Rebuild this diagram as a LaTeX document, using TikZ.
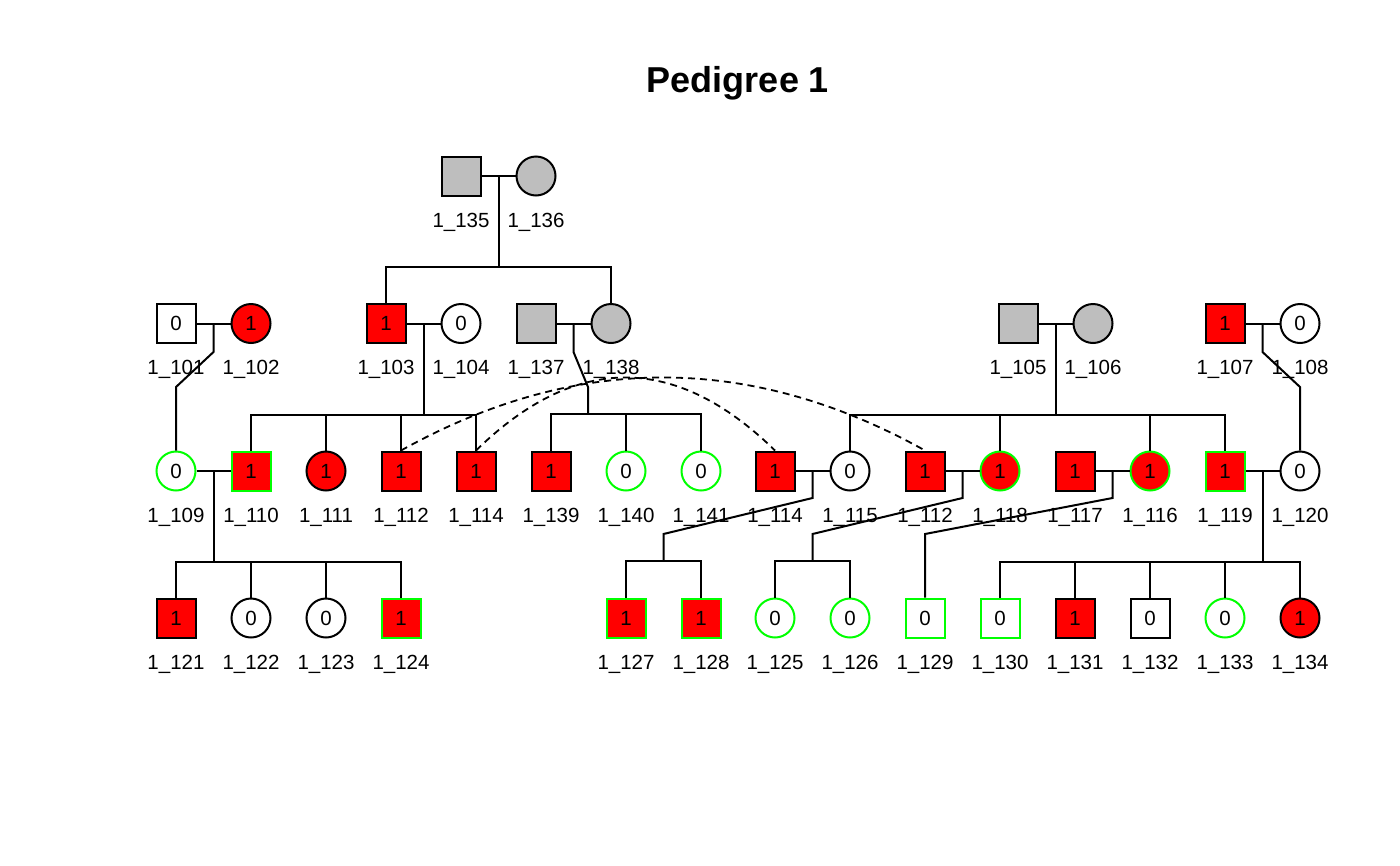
\documentclass[tikz,border=0pt]{standalone}
\usepackage{fontspec}
\setmainfont{Liberation Sans}
\usetikzlibrary{calc}
\definecolor{affred}{RGB}{255,0,0}
\definecolor{unkgray}{RGB}{190,190,190}
\definecolor{brdgreen}{RGB}{0,255,0}
\begin{document}
\begin{tikzpicture}[x=1pt,y=-1pt,line width=2pt,
  sym/.style={draw=black,line width=2pt,inner sep=0pt,minimum size=39pt,
    font=\fontsize{20.5}{24}\selectfont},
  sq/.style={sym,rectangle},
  ci/.style={sym,circle},
  aff/.style={fill=affred},
  unk/.style={fill=unkgray},
  nor/.style={fill=white},
  gb/.style={draw=brdgreen},
  lab/.style={anchor=base,inner sep=0pt,font=\fontsize{20.5}{24}\selectfont},
  con/.style={draw=black,line width=2pt},
  loopline/.style={draw=black,line width=1.8pt,dash pattern=on 7pt off 5pt}]
\useasboundingbox (0,0) rectangle (1400,865);
\node[font=\bfseries\fontsize{36}{42}\selectfont,anchor=base,inner sep=0pt] (title) at (738,92) {Pedigree 1};
% ---------- generation 1 ----------
\node[sq,unk] (p135) at (461,176) {};
\node[ci,unk] (p136) at (536,176) {};
% ---------- generation 2 ----------
\node[sq,nor] (p101) at (176,323.5) {0};
\node[ci,aff] (p102) at (251,323.5) {1};
\node[sq,aff] (p103) at (386,323.5) {1};
\node[ci,nor] (p104) at (461,323.5) {0};
\node[sq,unk] (p137) at (536,323.5) {};
\node[ci,unk] (p138) at (611,323.5) {};
\node[sq,unk] (p105) at (1018,323.5) {};
\node[ci,unk] (p106) at (1093,323.5) {};
\node[sq,aff] (p107) at (1225,323.5) {1};
\node[ci,nor] (p108) at (1300,323.5) {0};
% ---------- generation 3 ----------
\node[ci,nor,gb] (p109) at (176,471) {0};
\node[sq,aff,gb] (p110) at (251,471) {1};
\node[ci,aff] (p111) at (326,471) {1};
\node[sq,aff] (p112a) at (401,471) {1};
\node[sq,aff] (p114a) at (476,471) {1};
\node[sq,aff] (p139) at (551,471) {1};
\node[ci,nor,gb] (p140) at (626,471) {0};
\node[ci,nor,gb] (p141) at (701,471) {0};
\node[sq,aff] (p114b) at (775,471) {1};
\node[ci,nor] (p115) at (850,471) {0};
\node[sq,aff] (p112b) at (925,471) {1};
\node[ci,aff,gb] (p118) at (1000,471) {1};
\node[sq,aff] (p117) at (1075,471) {1};
\node[ci,aff,gb] (p116) at (1150,471) {1};
\node[sq,aff,gb] (p119) at (1225,471) {1};
\node[ci,nor] (p120) at (1300,471) {0};
% ---------- generation 4 ----------
\node[sq,aff] (p121) at (176,618) {1};
\node[ci,nor] (p122) at (251,618) {0};
\node[ci,nor] (p123) at (326,618) {0};
\node[sq,aff,gb] (p124) at (401,618) {1};
\node[sq,aff,gb] (p127) at (626,618) {1};
\node[sq,aff,gb] (p128) at (701,618) {1};
\node[ci,nor,gb] (p125) at (775,618) {0};
\node[ci,nor,gb] (p126) at (850,618) {0};
\node[sq,nor,gb] (p129) at (925,618) {0};
\node[sq,nor,gb] (p130) at (1000,618) {0};
\node[sq,aff] (p131) at (1075,618) {1};
\node[sq,nor] (p132) at (1150,618) {0};
\node[ci,nor,gb] (p133) at (1225,618) {0};
\node[ci,aff] (p134) at (1300,618) {1};
% ---------- labels ----------
\foreach \n/\t in {p135/1\_135,p136/1\_136,p101/1\_101,p102/1\_102,p103/1\_103,p104/1\_104,
  p137/1\_137,p138/1\_138,p105/1\_105,p106/1\_106,p107/1\_107,p108/1\_108,
  p109/1\_109,p110/1\_110,p111/1\_111,p112a/1\_112,p114a/1\_114,p139/1\_139,p140/1\_140,
  p141/1\_141,p114b/1\_114,p115/1\_115,p112b/1\_112,p118/1\_118,p117/1\_117,p116/1\_116,
  p119/1\_119,p120/1\_120,p121/1\_121,p122/1\_122,p123/1\_123,p124/1\_124,p127/1\_127,
  p128/1\_128,p125/1\_125,p126/1\_126,p129/1\_129,p130/1\_130,p131/1\_131,p132/1\_132,
  p133/1\_133,p134/1\_134}
  {\node[lab] (l\n) at ($(\n.center)+(0,51)$) {\t};}
% ---------- marriages ----------
\foreach \a/\b/\m in {p135/p136/m135,p101/p102/m101,p103/p104/m103,p137/p138/m137,
  p105/p106/m105,p107/p108/m107,p109/p110/m109,p114b/p115/m114,p112b/p118/m112,
  p117/p116/m117,p119/p120/m119}
  {\draw[con] (\a.east) -- (\b.west);
   \coordinate (\m) at ($(\a.east)!0.5!(\b.west)$);}
% ---------- gen 1 -> 2 ----------
\coordinate (s135) at ($(m135)+(0,91)$);
\draw[con] (m135) -- (s135);
\draw[con] (p103.north) |- (s135) -| (p138.north);
% ---------- gen 2 -> 3 ----------
\draw[con] (m101) -- ++(0,28.5) -- ($(p109.north)+(0,-63.5)$) -- (p109.north);
\coordinate (s103) at ($(m103)+(0,91.5)$);
\draw[con] (m103) -- (s103);
\draw[con] (p110.north) |- (s103) -| (p114a.north);
\draw[con] (p111.north) -- ++(0,-36.5);
\draw[con] (p112a.north) -- ++(0,-36.5);
\coordinate (s137) at ($(p140.north)+(-38,-36.5)$);
\draw[con] (m137) -- ++(0,28.5) -- ($(s137)+(0,-27)$) -- (s137);
\draw[con] (p139.north) |- (s137) -| (p141.north);
\draw[con] (p140.north) -- ++(0,-36.5);
\coordinate (s105) at ($(m105)+(0,91.5)$);
\draw[con] (m105) -- (s105);
\draw[con] (p115.north) |- (s105) -| (p119.north);
\draw[con] (p118.north) -- ++(0,-36.5);
\draw[con] (p116.north) -- ++(0,-36.5);
\draw[con] (m107) -- ++(0,28.5) -- ($(p120.north)+(0,-63.5)$) -- (p120.north);
% ---------- gen 3 -> 4 ----------
\coordinate (s109) at ($(m109)+(0,91)$);
\draw[con] (m109) -- (s109);
\draw[con] (p121.north) |- (s109) -| (p124.north);
\draw[con] (p122.north) -- ++(0,-36.5);
\draw[con] (p123.north) -- ++(0,-36.5);
\coordinate (s114) at ($(p127.north)!0.5!(p128.north)+(0,-36.5)$);
\draw[con] (m114) -- ++(0,27) -- ($(s114)+(0,-27)$) -- (s114);
\draw[con] (p127.north) |- (s114) -| (p128.north);
\coordinate (s112) at ($(p125.north)!0.5!(p126.north)+(0,-36.5)$);
\draw[con] (m112) -- ++(0,27) -- ($(s112)+(0,-27)$) -- (s112);
\draw[con] (p125.north) |- (s112) -| (p126.north);
\draw[con] (m117) -- ++(0,27) -- ($(p129.north)+(0,-63.5)$) -- (p129.north);
\coordinate (s119) at ($(m119)+(0,91)$);
\draw[con] (m119) -- (s119);
\draw[con] (p130.north) |- (s119) -| (p134.north);
\draw[con] (p131.north) -- ++(0,-36.5);
\draw[con] (p132.north) -- ++(0,-36.5);
\draw[con] (p133.north) -- ++(0,-36.5);
% ---------- duplicate-individual arcs ----------
\draw[loopline] (p112a.north) .. controls +(174.67,-97.33) and +(-174.67,-97.33) .. (p112b.north);
\draw[loopline] (p114a.north) .. controls +(99.67,-97.33) and +(-99.67,-97.33) .. (p114b.north);
\end{tikzpicture}
\end{document}
